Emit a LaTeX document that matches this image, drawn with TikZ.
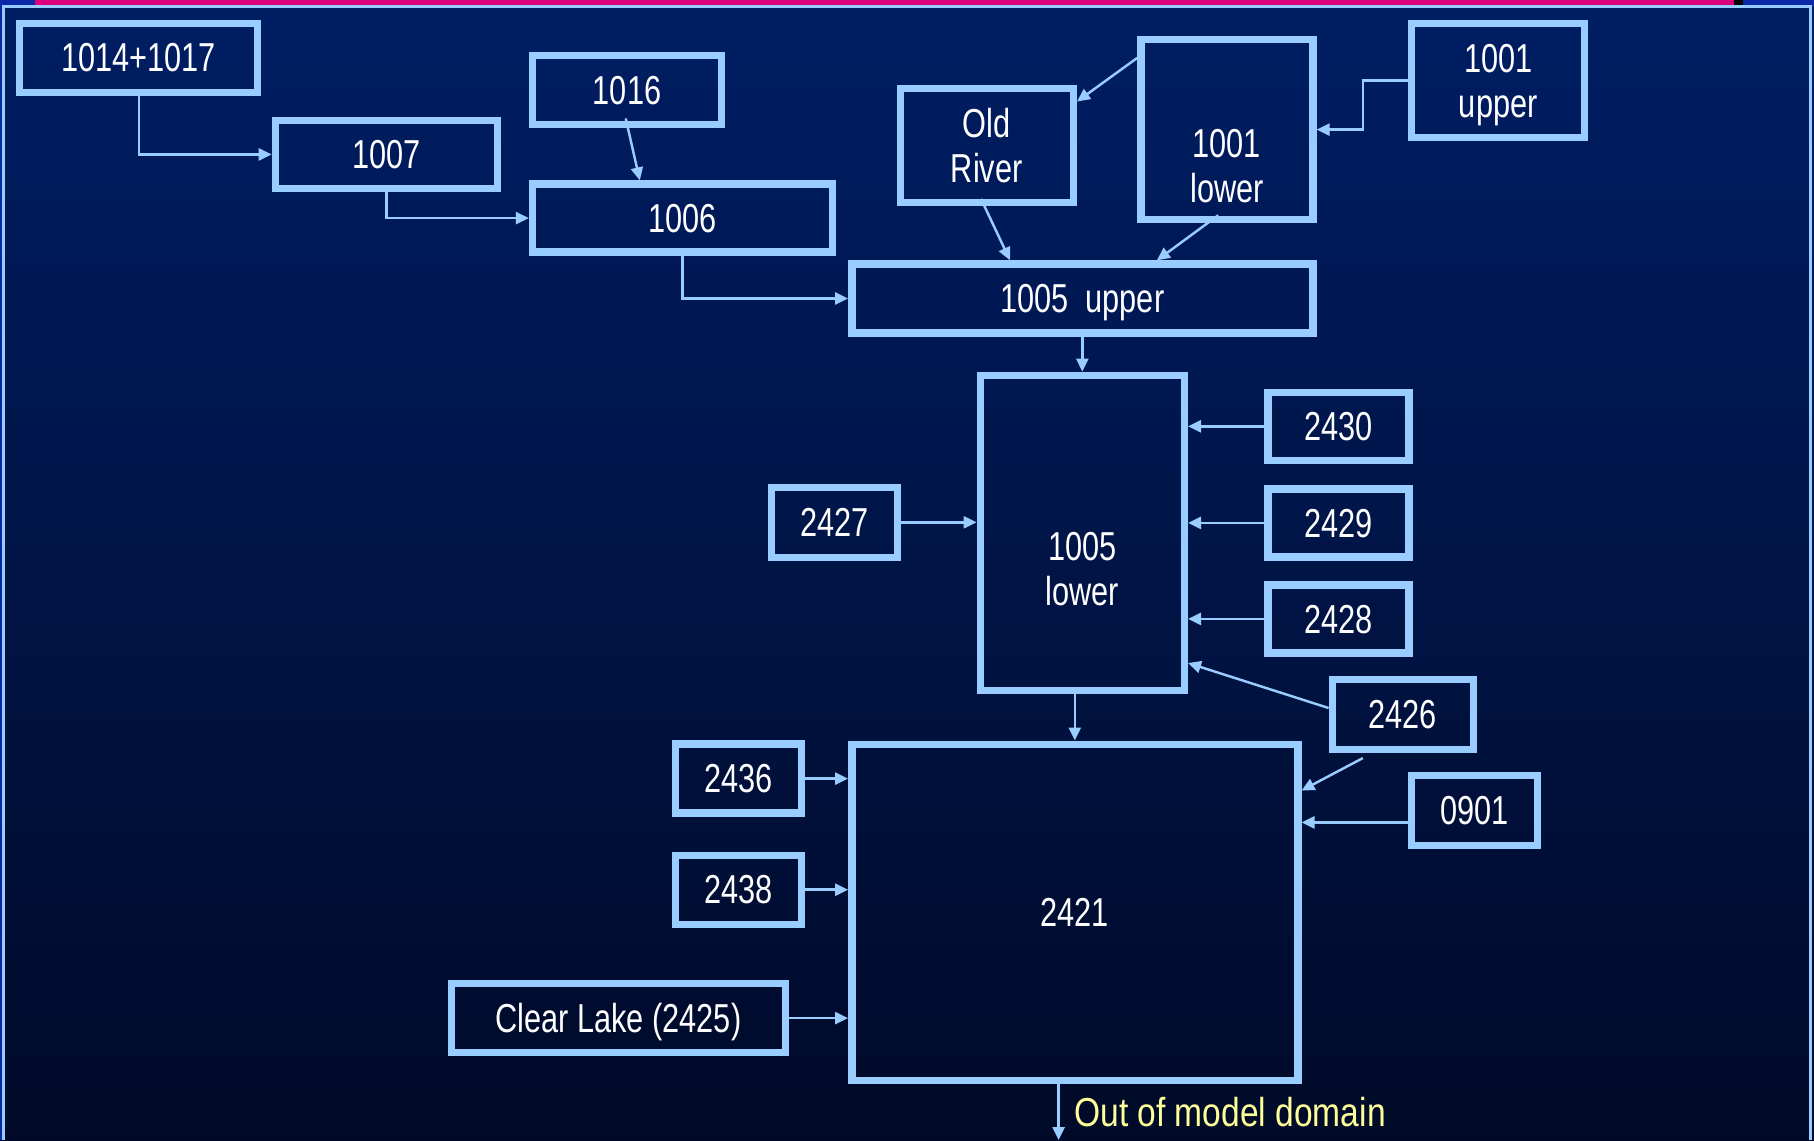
\documentclass[tikz,border=0pt]{standalone}
\usepackage{fontspec}
\setmainfont[FakeStretch=0.76]{Liberation Sans}
\newfontfamily\widefont[FakeStretch=0.83]{Liberation Sans}
\usepackage{xcolor}
\usepackage{tikz}
\usetikzlibrary{arrows.meta, positioning, calc}

\definecolor{bgtop}{HTML}{001E64}
\definecolor{bgbot}{HTML}{000A28}
\definecolor{edge}{HTML}{99CCFF}
\definecolor{slidepink}{HTML}{DC007C}
\definecolor{slideblue}{HTML}{0A28A8}
\definecolor{outyellow}{HTML}{FFFF99}

\begin{document}
\begin{tikzpicture}[
    font=\fontsize{11.5}{12.8}\selectfont,
    % light blue frames, white labels
    box/.style={rectangle, draw=edge, line width=2.1pt, text=white, align=center, inner sep=0pt, text depth=0pt},
    boxtext/.style={text=white, align=center, inner sep=0pt},
    arrow/.style={-{Triangle[length=0.13cm, width=0.12cm]}, draw=edge, line width=0.7pt},
    outtext/.style={text=outyellow, anchor=west, inner sep=0pt, font=\widefont\fontsize{11.5}{12.8}\selectfont}
]

% =========================================================
% SLIDE BACKGROUND
% =========================================================
\useasboundingbox (0,0) rectangle (18.14,-11.40);
\shade[top color=bgtop, bottom color=bgbot] (0,0) rectangle (18.14,-11.40);
\fill[slideblue] (0,0) rectangle (18.14,-0.06);
\fill[slidepink] (0.35,0) rectangle (17.34,-0.045);
\fill[black] (17.34,0) rectangle (17.43,-0.055);
\fill[slideblue] (0,-0.06) rectangle (0.03,-11.40);
\draw[edge, line width=0.6pt] (0.035,-11.40) |- (18.105,-0.065) -- (18.105,-11.40);

% =========================================================
% UPPER CHAIN
% =========================================================
\node[box, minimum width=2.38cm, minimum height=0.69cm] (f1014) at (1.388,-0.578) {1014+1017};
\node[box, minimum width=2.22cm, minimum height=0.68cm] (n1007) at (3.864,-1.544) {1007};
\node[box, minimum width=1.89cm, minimum height=0.69cm] (n1016) at (6.270,-0.902) {1016};
\node[box, minimum width=3.00cm, minimum height=0.68cm] (n1006) at (6.826,-2.181) {1006};

\node[box, minimum width=1.73cm, minimum height=1.14cm] (oldriver) at (9.868,-1.452) {Old\\River};
\node[box, minimum width=1.72cm, minimum height=1.80cm] (lower1001) at (12.269,-1.296) {};
\node[boxtext] (lower1001txt) at ([yshift=-0.36cm]lower1001.center) {1001\\lower};
\node[box, minimum width=1.73cm, minimum height=1.14cm] (upper1001) at (14.982,-0.804) {1001\\upper};

\node[box, minimum width=4.61cm, minimum height=0.69cm] (upper1005) at (10.823,-2.985) {1005~~upper};

\draw[arrow] (f1014.south) |- (n1007.west);
\draw[arrow] (n1007.south) |- (n1006.west);
\draw[arrow] ([xshift=-0.013cm, yshift=0.1cm]n1016.south) -- ([xshift=-0.428cm]n1006.north);
\draw[arrow] (n1006.south) |- (upper1005.west);

\draw[arrow] ([yshift=-0.22cm]lower1001.north west) -- ([yshift=-0.17cm]oldriver.north east);
\draw[arrow] (upper1001.west) -- ++(-0.45,0) |- (lower1001.east);
\draw[arrow] ([xshift=-0.058cm, yshift=0.07cm]oldriver.south) -- ([xshift=-0.723cm]upper1005.north);
\draw[arrow] ([xshift=-0.087cm, yshift=0.08cm]lower1001.south) -- ([xshift=0.746cm]upper1005.north);

% =========================================================
% 1005 LOWER AND ITS INFLOWS
% =========================================================
\node[box, minimum width=2.04cm, minimum height=3.15cm] (lower1005) at (10.823,-5.328) {};
\node[boxtext] (lower1005txt) at ([yshift=-0.36cm]lower1005.center) {1005\\lower};

\node[box, minimum width=1.41cm, minimum height=0.68cm] (n2430) at (13.385,-4.263) {2430};
\node[box, minimum width=1.41cm, minimum height=0.68cm] (n2429) at (13.385,-5.229) {2429};
\node[box, minimum width=1.41cm, minimum height=0.68cm] (n2428) at (13.385,-6.189) {2428};
\node[box, minimum width=1.26cm, minimum height=0.70cm] (n2427) at (8.347,-5.223) {2427};
\node[box, minimum width=1.41cm, minimum height=0.70cm] (n2426) at (14.028,-7.144) {2426};

\draw[arrow] (upper1005.south) -- (lower1005.north);
\draw[arrow] (n2430.west) -- (n2430.west -| lower1005.east);
\draw[arrow] (n2429.west) -- (n2429.west -| lower1005.east);
\draw[arrow] (n2428.west) -- (n2428.west -| lower1005.east);
\draw[arrow] (n2427.east) -- (n2427.east -| lower1005.west);
\draw[arrow] ([yshift=0.064cm]n2426.west) -- ([yshift=0.31cm]lower1005.south east);

% =========================================================
% 2421 AND ITS INFLOWS
% =========================================================
\node[box, minimum width=4.46cm, minimum height=3.36cm] (n2421) at (10.748,-9.122) {2421};
\node[box, minimum width=1.26cm, minimum height=0.70cm] (n0901) at (14.745,-8.104) {0901};
\node[box, minimum width=1.26cm, minimum height=0.69cm] (n2436) at (7.387,-7.786) {2436};
\node[box, minimum width=1.26cm, minimum height=0.69cm] (n2438) at (7.387,-8.897) {2438};
\node[box, minimum width=3.34cm, minimum height=0.69cm] (clearlake) at (6.184,-10.181) {Clear Lake (2425)};

\draw[arrow] (n2421.north |- lower1005.south) -- (n2421.north);
\draw[arrow] ([xshift=-0.40cm, yshift=-0.05cm]n2426.south) -- ([yshift=-0.50cm]n2421.north east);
\draw[arrow] ([yshift=-0.12cm]n0901.west) -- ([yshift=-0.12cm]n0901.west -| n2421.east);
\draw[arrow] (n2436.east) -- (n2436.east -| n2421.west);
\draw[arrow] (n2438.east) -- (n2438.east -| n2421.west);
\draw[arrow] (clearlake.east) -- (clearlake.east -| n2421.west);

% outflow
\coordinate (outlet) at ([xshift=-0.162cm]n2421.south |- 0,-11.40);
\draw[arrow] ([xshift=-0.162cm]n2421.south) -- (outlet);
\node[outtext] (outlabel) at (10.736,-11.118) {Out of model domain};

\end{tikzpicture}
\end{document}
